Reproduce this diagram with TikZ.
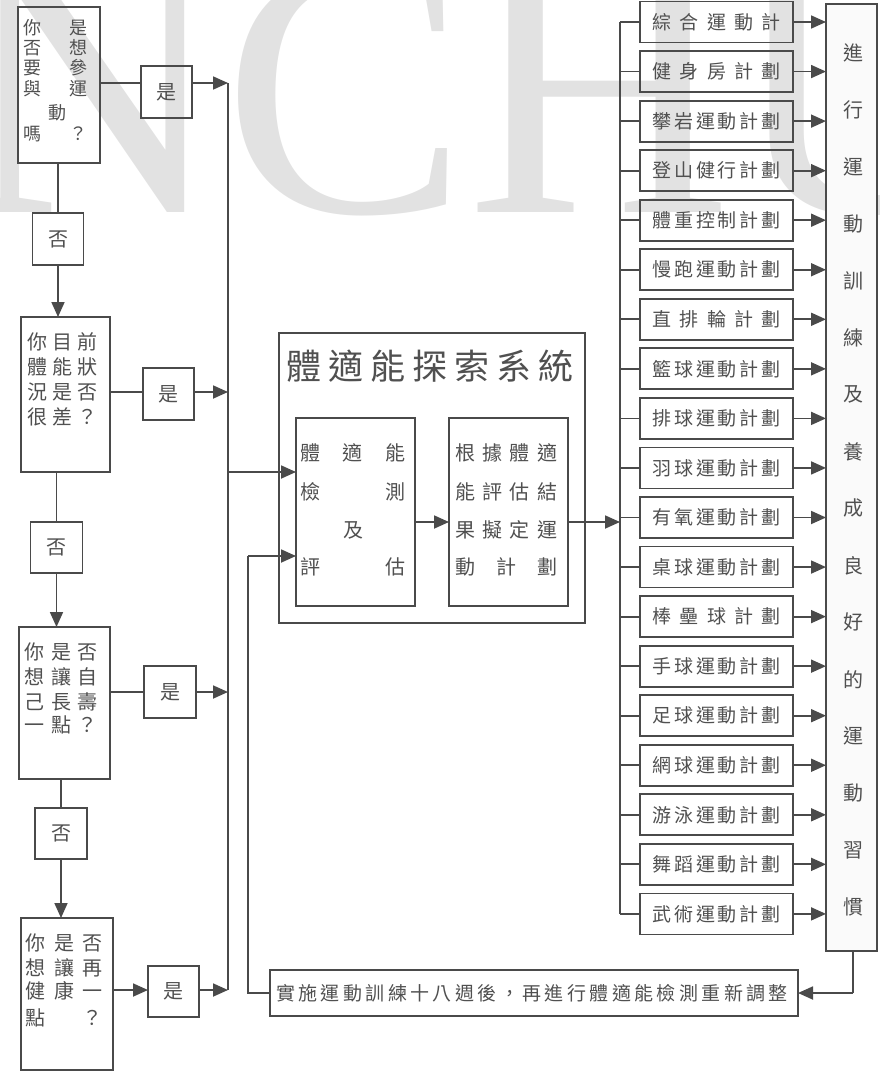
\documentclass[tikz,border=0pt]{standalone}
\usepackage{fontspec}
\newfontfamily\cjk{Noto Sans CJK TC}
\newfontfamily\wmfont{Liberation Serif}
\usetikzlibrary{arrows.meta}
\definecolor{lc}{HTML}{4A4A4A}
\definecolor{tc}{HTML}{505050}
\definecolor{wm}{HTML}{E2E2E2}
\def\sprdaux#1{\ifx#1\relax\else\hfill#1\expandafter\sprdaux\fi}
\def\sprdfirst#1{#1\sprdaux}
\newcommand\spreadtext[2]{\makebox[#1][s]{\expandafter\sprdfirst#2\relax}}
\tikzset{
  ln/.style={draw=lc, line width=1.8pt},
  bx/.style={draw=lc, line width=1.8pt, rectangle, inner sep=0pt, outer sep=0pt},
  arr/.style={draw=lc, line width=1.8pt, -{Triangle[length=15pt,width=13pt]}},
  tx/.style={text=tc, inner sep=0pt, font=\cjk\fontsize{19}{19}\selectfont},
  txb/.style={text=tc, inner sep=0pt, font=\cjk\fontsize{20}{20}\selectfont},
  txs/.style={text=tc, inner sep=0pt, font=\cjk\fontsize{18}{18}\selectfont},
}
\begin{document}
\begin{tikzpicture}[x=1pt,y=-1pt]
\useasboundingbox (0,0) rectangle (879,1073);
% watermark
\begin{scope}
\clip (0,0) rectangle (879,1073);
\node[anchor=base west, inner sep=0pt, text=wm, font=\wmfont\fontsize{366}{366}\selectfont] (wmk) at (-41,212) {NCHU};
\end{scope}

% ---------- left column ----------
\node[bx, minimum width=82pt, minimum height=156pt] (q1) at (59,85) {};
\node[bx, minimum width=51pt, minimum height=52pt] (n1) at (58,239) {};
\node[bx, minimum width=89pt, minimum height=155pt] (q2) at (65.5,394.5) {};
\node[bx, minimum width=52pt, minimum height=51pt] (n2) at (56.5,547.5) {};
\node[bx, minimum width=91pt, minimum height=152pt] (q3) at (64.5,703) {};
\node[bx, minimum width=52pt, minimum height=51pt] (n3) at (61,833.5) {};
\node[bx, minimum width=92pt, minimum height=152pt] (q4) at (67,994) {};

\node[bx, minimum width=51pt, minimum height=52pt] (y1) at (166.5,92) {};
\node[bx, minimum width=51pt, minimum height=52pt] (y2) at (168.5,394) {};
\node[bx, minimum width=52pt, minimum height=52pt] (y3) at (170,692) {};
\node[bx, minimum width=51pt, minimum height=51pt] (y4) at (173.5,991.5) {};

% texts
\node[txb] (y1t) at (y1) {是};
\node[txb] (y2t) at (y2) {是};
\node[txb] (y3t) at (y3) {是};
\node[txb] (y4t) at (y4) {是};
\node[txb] (n1t) at (n1) {否};
\node[txb] (n2t) at (n2) {否};
\node[txb] (n3t) at (n3) {否};

\node[txs] (q1a) at (55.5,28) {\spreadtext{64pt}{你是}};
\node[txs] (q1b) at (55.5,48) {\spreadtext{64pt}{否想}};
\node[txs] (q1c) at (55.5,68) {\spreadtext{64pt}{要參}};
\node[txs] (q1d) at (55.5,89) {\spreadtext{64pt}{與運}};
\node[txs] (q1e) at (57,113) {動};
\node[txs] (q1f) at (55.5,134) {\spreadtext{64pt}{嗎？}};

\node[txb] (q2a) at (62.5,342) {\spreadtext{70pt}{你目前}};
\node[txb] (q2b) at (62.5,367) {\spreadtext{70pt}{體能狀}};
\node[txb] (q2c) at (62.5,392) {\spreadtext{70pt}{況是否}};
\node[txb] (q2d) at (62.5,417) {\spreadtext{70pt}{很差？}};

\node[txb] (q3a) at (61,652) {\spreadtext{73pt}{你是否}};
\node[txb] (q3b) at (61,677) {\spreadtext{73pt}{想讓自}};
\node[txb] (q3c) at (61,702) {\spreadtext{73pt}{己長壽}};
\node[txb] (q3d) at (61,725) {\spreadtext{73pt}{一點？}};

\node[txb] (q4a) at (64,943) {\spreadtext{77pt}{你是否}};
\node[txb] (q4b) at (64,968) {\spreadtext{77pt}{想讓再}};
\node[txb] (q4c) at (64,991) {\spreadtext{77pt}{健康一}};
\node[txb] (q4d) at (64,1018) {\spreadtext{77pt}{點？}};

% left connectors
\draw[ln] (n1.north) -- (n1.north |- q1.south);
\draw[arr] (n1.south) -- (n1.south |- q2.north);
\draw[ln] (n2.north) -- (n2.north |- q2.south);
\draw[arr] (n2.south) -- (n2.south |- q3.north);
\draw[ln] (n3.north) -- (n3.north |- q3.south);
\draw[arr] (n3.south) -- (n3.south |- q4.north);

\coordinate (r1) at (228,83);
\coordinate (r2) at (228,392);
\coordinate (r3) at (228,692);
\coordinate (r4) at (228,990);
\coordinate (rm) at (228,472);
\draw[ln] (r1 -| q1.east) -- (r1 -| y1.west);
\draw[arr] (r1 -| y1.east) -- (r1);
\draw[ln] (r2 -| q2.east) -- (r2 -| y2.west);
\draw[arr] (r2 -| y2.east) -- (r2);
\draw[ln] (r3 -| q3.east) -- (r3 -| y3.west);
\draw[arr] (r3 -| y3.east) -- (r3);
\draw[arr] (r4 -| q4.east) -- (r4 -| y4.west);
\draw[arr] (r4 -| y4.east) -- (r4);
\draw[ln] (r1) -- (r4);

% ---------- main system box ----------
\node[bx, minimum width=306pt, minimum height=290pt] (M) at (432,478) {};
\node[text=tc, inner sep=0pt, font=\cjk\fontsize{35}{35}\selectfont] (Mt) at (430,366) {\spreadtext{288pt}{體適能探索系統}};
\node[bx, minimum width=119pt, minimum height=188pt] (A) at (355.5,512) {};
\node[bx, minimum width=119pt, minimum height=188pt] (B) at (508.5,512) {};

\node[txb] (Aa) at (352.5,453) {\spreadtext{105pt}{體適能}};
\node[txb] (Ab) at (352.5,492) {\spreadtext{105pt}{檢測}};
\node[txb] (Ac) at (353,530) {及};
\node[txb] (Ad) at (352.5,567) {\spreadtext{105pt}{評估}};

\node[txb] (Ba) at (506,453) {\spreadtext{102pt}{根據體適}};
\node[txb] (Bb) at (506,492) {\spreadtext{102pt}{能評估結}};
\node[txb] (Bc) at (506,530) {\spreadtext{102pt}{果擬定運}};
\node[txb] (Bd) at (506,567) {\spreadtext{102pt}{動計劃}};

\coordinate (am) at (0,522);
\draw[arr] (rm) -- (rm -| A.west);
\draw[arr] (am -| A.east) -- (am -| B.west);

% ---------- bottom box ----------
\node[bx, minimum width=528pt, minimum height=46pt] (Bt) at (534,993) {};
\node[tx] (Btt) at (532,993) {\spreadtext{512pt}{實施運動訓練十八週後，再進行體適能檢測重新調整}};

\coordinate (s1) at (248,556);
\coordinate (s2) at (248,993);
\draw[arr] (s1) -- (s1 -| A.west);
\draw[ln] (s1) -- (s2) -- (Bt.west);

% ---------- right column ----------
\node[bx, fill=black!2, minimum width=51pt, minimum height=947pt] (T) at (851.5,477.5) {};
\foreach \c [count=\k from 0] in {進,行,運,動,訓,練,及,養,成,良,好,的,運,動,習,慣}
  \node[txb] (tt\k) at (853,53+56.93*\k) {\c};

\coordinate (bt) at (620,22);
\coordinate (bb) at (620,914);
\draw[ln] (bt) -- (bb);
\draw[arr] (am -| B.east) -- (am -| bt);

\foreach \t [count=\i from 0] in {綜合運動計,健身房計劃,攀岩運動計劃,登山健行計劃,體重控制計劃,慢跑運動計劃,直排輪計劃,籃球運動計劃,排球運動計劃,羽球運動計劃,有氧運動計劃,桌球運動計劃,棒壘球計劃,手球運動計劃,足球運動計劃,網球運動計劃,游泳運動計劃,舞蹈運動計劃,武術運動計劃}{
  \node[bx, minimum width=153pt, minimum height=41pt] (p\i) at (716.5,22+49.55*\i) {};
  \node[tx] (pt\i) at (p\i) {\spreadtext{128pt}{\t}};
  \draw[ln] (p\i.west) -- (p\i.west -| bt);
  \draw[arr] (p\i.east) -- (p\i.east -| T.west);
}

\coordinate (tb) at (853,993);
\draw[ln] (T.south -| tb) -- (tb);
\draw[arr] (tb) -- (Bt.east);
\end{tikzpicture}
\end{document}
